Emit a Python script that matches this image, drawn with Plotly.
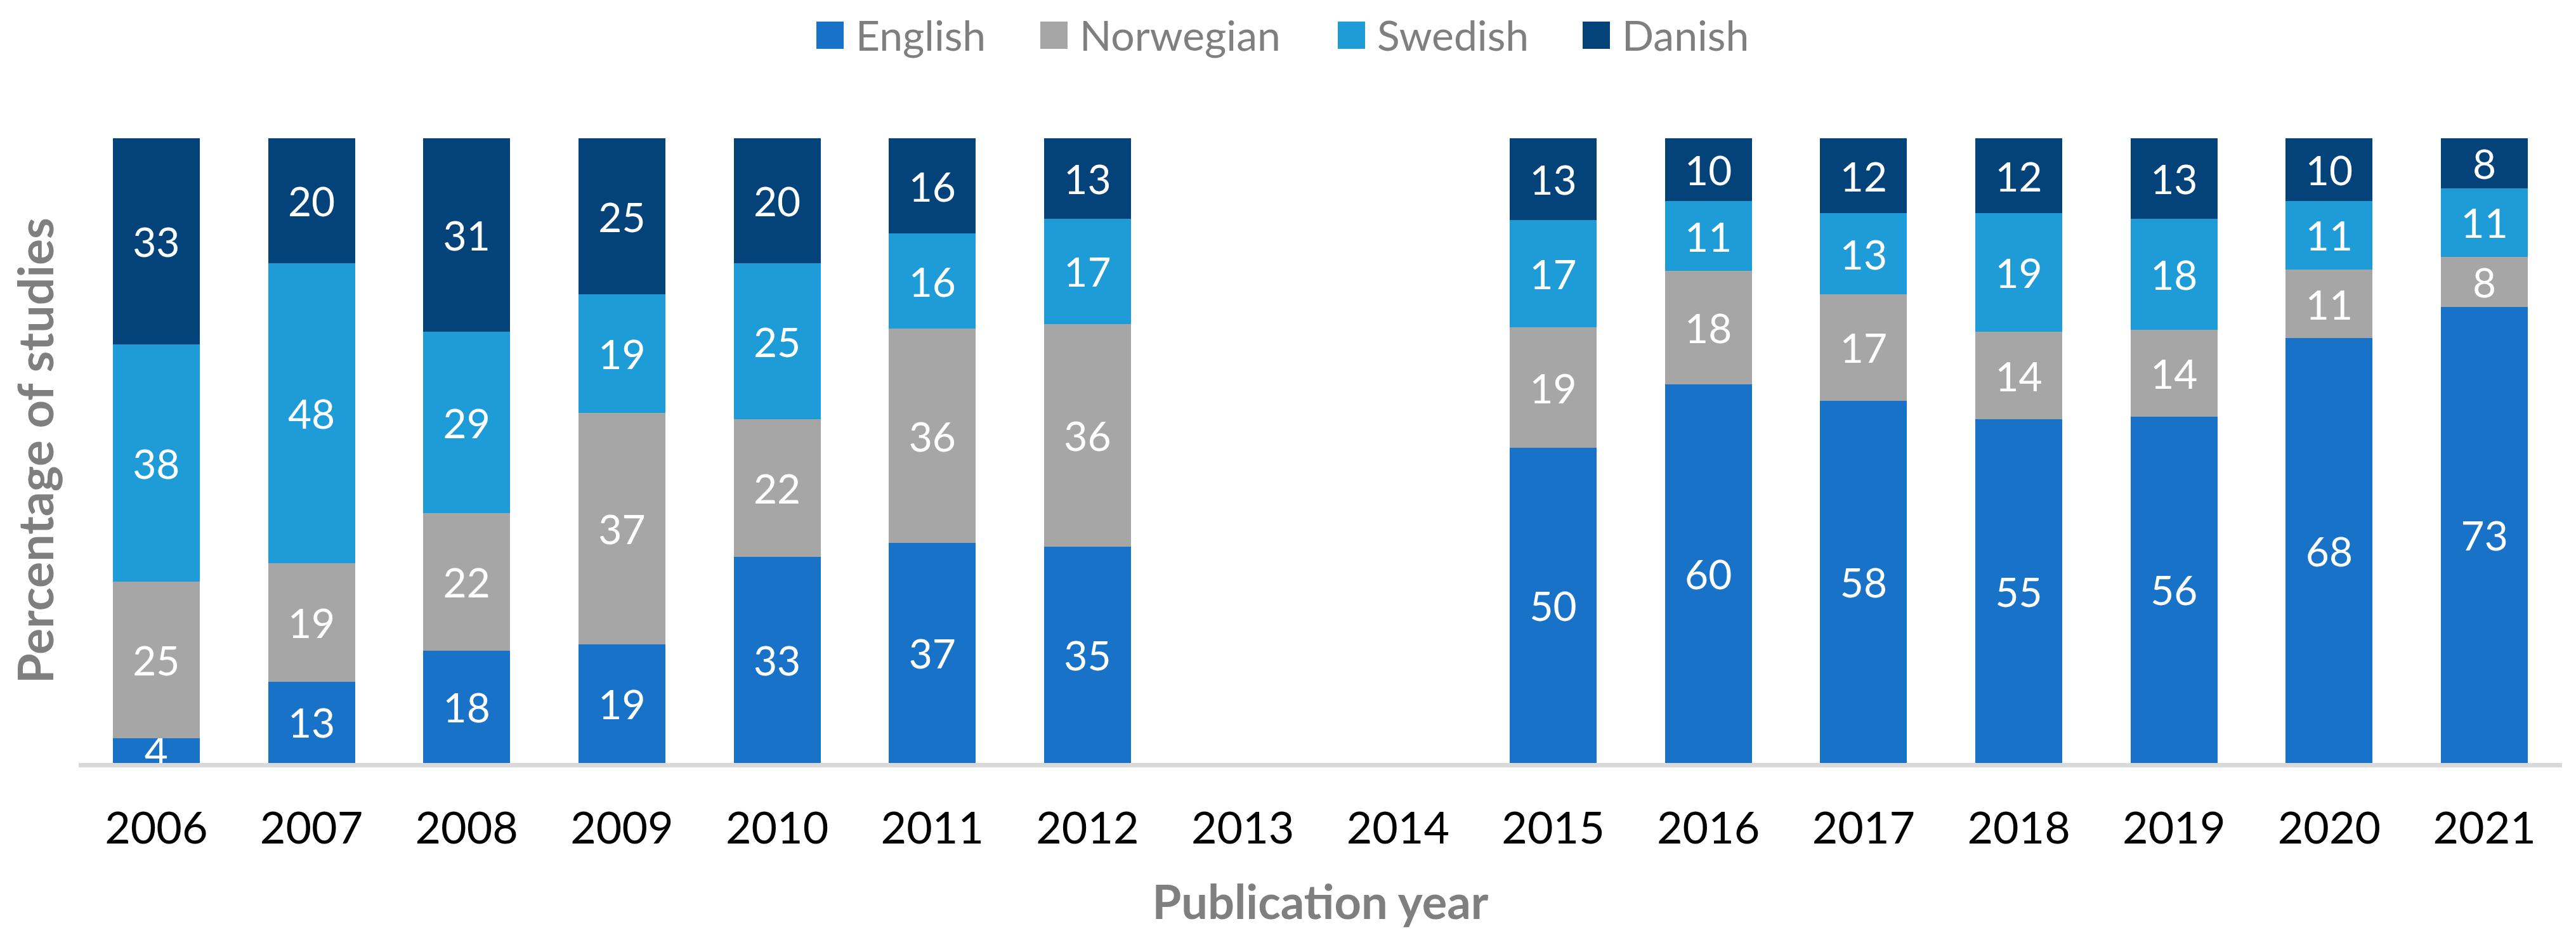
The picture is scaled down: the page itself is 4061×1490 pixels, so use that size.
import plotly.graph_objects as go

# ---------------- data ----------------
years = ["2006", "2007", "2008", "2009", "2010", "2011", "2012", "2013",
         "2014", "2015", "2016", "2017", "2018", "2019", "2020", "2021"]
english   = [4, 13, 18, 19, 33, 37, 35, None, None, 50, 60, 58, 55, 56, 68, 73]
norwegian = [25, 19, 22, 37, 22, 36, 36, None, None, 19, 18, 17, 14, 14, 11, 8]
swedish   = [38, 48, 29, 19, 25, 16, 17, None, None, 17, 11, 13, 19, 18, 11, 11]
danish    = [33, 20, 31, 25, 20, 16, 13, None, None, 13, 10, 12, 12, 13, 10, 8]

series_names = ["English", "Norwegian", "Swedish", "Danish"]
series_values = [english, norwegian, swedish, danish]
series_colors = ["#1873C8", "#A6A6A6", "#1E9CD7", "#03437A"]

x_title = "Publication year"
y_title = "Percentage of studies"

# ---------------- layout constants ----------------
# the page body has an 8px default margin, so the figure is made 16px
# smaller and every screen position is shifted by that offset
OFF = 8
W, H = 4061 - 2 * OFF, 1490 - 2 * OFF
PLOT_L, PLOT_R, PLOT_T, PLOT_B = 124, 4039, 218, 1203   # screen pixels
ML = PLOT_L - OFF
MT = PLOT_T - OFF
MR = W - (PLOT_R - OFF)
MB = H - (PLOT_B - OFF)
PW, PH = W - ML - MR, H - MT - MB
FONT = "Lato"


def px2x(px):
    return (px - OFF - ML) / PW


def py2y(py):
    return (H - MB - (py - OFF)) / PH


fig = go.Figure()
for name, vals, col in zip(series_names, series_values, series_colors):
    fig.add_trace(go.Bar(
        x=years, y=vals, name=name,
        marker=dict(color=col, line=dict(width=0)),
        text=["" if v is None else str(v) for v in vals],
        texttemplate="%{text}",
        textposition="inside",
        insidetextanchor="middle",
        constraintext="none",
        textangle=0,
        textfont=dict(family=FONT, size=64, color="white"),
        hoverinfo="skip",
        showlegend=False,
    ))

# manual legend (large square swatches like the original)
legend_left_px = [1287, 1640, 2109, 2495]
sw = 43
sw_top = 34
shapes = []
annotations = []
for name, col, lx in zip(series_names, series_colors, legend_left_px):
    shapes.append(dict(type="rect", xref="paper", yref="paper",
                       x0=px2x(lx), x1=px2x(lx + sw),
                       y0=py2y(sw_top + sw), y1=py2y(sw_top),
                       fillcolor=col, line=dict(width=0), layer="above"))
    annotations.append(dict(text=name, xref="paper", yref="paper",
                            x=px2x(lx + sw + 17), y=py2y(sw_top + sw / 2 - 1),
                            xanchor="left", yanchor="middle", showarrow=False,
                            font=dict(family=FONT, size=66, color="#7F7F7F")))

fig.update_layout(
    width=W, height=H,
    margin=dict(l=ML, r=MR, t=MT, b=MB, autoexpand=False),
    paper_bgcolor="white", plot_bgcolor="white",
    barmode="stack", barnorm="percent", bargap=0.44,
    showlegend=False,
    uniformtext=dict(mode="show", minsize=64),
    font=dict(family=FONT),
    shapes=shapes,
    annotations=annotations,
    xaxis=dict(
        type="category", categoryorder="array", categoryarray=years,
        showline=True, linecolor="#D9D9D9", linewidth=7,
        showgrid=False, zeroline=False, ticks="",
        ticklabelstandoff=36,
        tickfont=dict(family=FONT, size=70, color="black"),
        title=dict(text="<b>" + x_title + "</b>", standoff=56,
                   font=dict(family=FONT, size=74, color="#7F7F7F")),
        automargin=False,
    ),
    yaxis=dict(
        range=[0, 100], showline=False, showgrid=False, zeroline=False,
        showticklabels=False, ticks="",
        title=dict(text="<b>" + y_title + "</b>", standoff=14,
                   font=dict(family=FONT, size=77, color="#7F7F7F")),
        automargin=False,
    ),
)

fig.write_html("out.html")
